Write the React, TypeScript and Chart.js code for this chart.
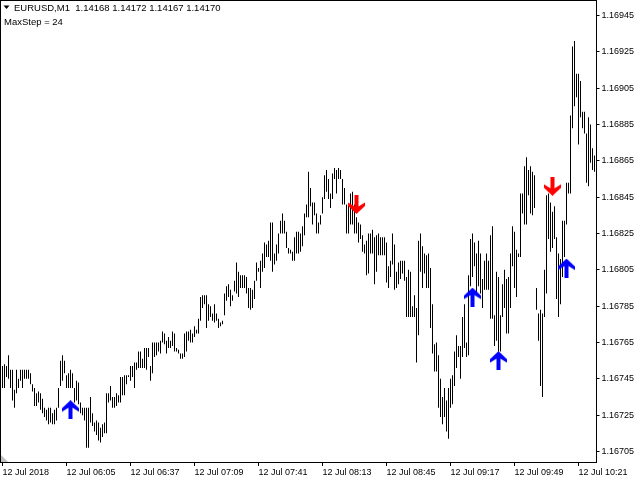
import React, { useEffect, useRef } from 'react';
import { Chart, registerables } from 'chart.js';

Chart.register(...registerables);

const FONT = '"Liberation Sans", Arial, sans-serif';

// M1 bars, 05:33 .. 10:29 (high / low)
const highs = [
  1.16752, 1.16753, 1.16752, 1.16758, 1.16750, 1.16750, 1.16739, 1.16750, 1.16745, 1.16750,
  1.16750, 1.16750, 1.16750, 1.16750, 1.16748, 1.16742, 1.16740, 1.16737, 1.16738, 1.16737,
  1.16734, 1.16729, 1.16728, 1.16729, 1.16729, 1.16726, 1.16728, 1.16729, 1.16740, 1.16755,
  1.16758, 1.16755, 1.16747, 1.16748, 1.16750, 1.16748, 1.16740, 1.16744, 1.16743, 1.16732,
  1.16729, 1.16729, 1.16729, 1.16729, 1.16735, 1.16726, 1.16721, 1.16722, 1.16721, 1.16718,
  1.16720, 1.16721, 1.16737, 1.16737, 1.16741, 1.16735, 1.16735, 1.16737, 1.16736, 1.16746,
  1.16746, 1.16747, 1.16747, 1.16747, 1.16752, 1.16752, 1.16754, 1.16754, 1.16760, 1.16760,
  1.16756, 1.16762, 1.16762, 1.16762, 1.16752, 1.16765, 1.16765, 1.16765, 1.16765, 1.16766,
  1.16771, 1.16770, 1.16766, 1.16768, 1.16766, 1.16771, 1.16770, 1.16762, 1.16761, 1.16759,
  1.16759, 1.16770, 1.16771, 1.16771, 1.16772, 1.16770, 1.16774, 1.16772, 1.16778, 1.16790,
  1.16791, 1.16791, 1.16791, 1.16786, 1.16785, 1.16781, 1.16786, 1.16781, 1.16778, 1.16776,
  1.16777, 1.16792, 1.16796, 1.16797, 1.16794, 1.16791, 1.16799, 1.16809, 1.16804, 1.16802,
  1.16802, 1.16802, 1.16801, 1.16795, 1.16795, 1.16794, 1.16799, 1.16809, 1.16806, 1.16810,
  1.16814, 1.16820, 1.16819, 1.16821, 1.16831, 1.16831, 1.16814, 1.16819, 1.16825, 1.16832,
  1.16836, 1.16832, 1.16826, 1.16817, 1.16816, 1.16815, 1.16823, 1.16826, 1.16826, 1.16825,
  1.16829, 1.16836, 1.16841, 1.16859, 1.16850, 1.16842, 1.16842, 1.16836, 1.16831, 1.16835,
  1.16845, 1.16857, 1.16860, 1.16855, 1.16847, 1.16858, 1.16861, 1.16860, 1.16861, 1.16860,
  1.16855, 1.16850, 1.16841, 1.16841, 1.16847, 1.16848, 1.16841, 1.16834, 1.16831, 1.16830,
  1.16824, 1.16819, 1.16821, 1.16825, 1.16825, 1.16827, 1.16823, 1.16824, 1.16825, 1.16823,
  1.16823, 1.16823, 1.16820, 1.16807, 1.16810, 1.16825, 1.16819, 1.16804, 1.16809, 1.16810,
  1.16810, 1.16810, 1.16801, 1.16805, 1.16804, 1.16785, 1.16791, 1.16784, 1.16821, 1.16825,
  1.16818, 1.16814, 1.16813, 1.16814, 1.16806, 1.16786, 1.16764, 1.16765, 1.16758, 1.16745,
  1.16735, 1.16740, 1.16733, 1.16740, 1.16745, 1.16747, 1.16760, 1.16769, 1.16763, 1.16763,
  1.16779, 1.16786, 1.16765, 1.16802, 1.16822, 1.16825, 1.16820, 1.16814, 1.16821, 1.16814,
  1.16800, 1.16810, 1.16814, 1.16810, 1.16824, 1.16829, 1.16780, 1.16804, 1.16801, 1.16780,
  1.16797, 1.16805, 1.16800, 1.16801, 1.16814, 1.16829, 1.16826, 1.16816, 1.16814, 1.16847,
  1.16847, 1.16862, 1.16867, 1.16860, 1.16862, 1.16859, 1.16857, 1.16795, 1.16781, 1.16783,
  1.16781, 1.16805, 1.16846, 1.16847, 1.16842, 1.16837, 1.16840, 1.16823, 1.16814, 1.16811,
  1.16832, 1.16832, 1.16853, 1.16853, 1.16890, 1.16928, 1.16931, 1.16913, 1.16913, 1.16909,
  1.16892, 1.16892, 1.16880, 1.16889, 1.16885, 1.16872, 1.16868,
];

const lows = [
  1.16740, 1.16740, 1.16746, 1.16745, 1.16740, 1.16733, 1.16729, 1.16737, 1.16740, 1.16744,
  1.16740, 1.16745, 1.16745, 1.16745, 1.16742, 1.16738, 1.16730, 1.16730, 1.16732, 1.16728,
  1.16726, 1.16724, 1.16722, 1.16720, 1.16721, 1.16720, 1.16720, 1.16722, 1.16729, 1.16741,
  1.16744, 1.16748, 1.16740, 1.16740, 1.16740, 1.16740, 1.16732, 1.16733, 1.16731, 1.16726,
  1.16725, 1.16722, 1.16707, 1.16707, 1.16721, 1.16719, 1.16716, 1.16714, 1.16711, 1.16710,
  1.16713, 1.16715, 1.16715, 1.16732, 1.16733, 1.16729, 1.16729, 1.16730, 1.16732, 1.16732,
  1.16736, 1.16736, 1.16742, 1.16746, 1.16744, 1.16746, 1.16740, 1.16750, 1.16751, 1.16751,
  1.16751, 1.16751, 1.16750, 1.16757, 1.16744, 1.16748, 1.16757, 1.16758, 1.16760, 1.16759,
  1.16765, 1.16764, 1.16759, 1.16762, 1.16762, 1.16763, 1.16760, 1.16760, 1.16759, 1.16756,
  1.16756, 1.16757, 1.16760, 1.16766, 1.16765, 1.16765, 1.16768, 1.16770, 1.16770, 1.16777,
  1.16784, 1.16786, 1.16773, 1.16777, 1.16779, 1.16777, 1.16776, 1.16777, 1.16773, 1.16774,
  1.16775, 1.16780, 1.16788, 1.16790, 1.16785, 1.16788, 1.16793, 1.16792, 1.16790, 1.16795,
  1.16795, 1.16795, 1.16792, 1.16784, 1.16783, 1.16784, 1.16789, 1.16799, 1.16804, 1.16795,
  1.16804, 1.16806, 1.16812, 1.16812, 1.16810, 1.16804, 1.16808, 1.16810, 1.16814, 1.16825,
  1.16825, 1.16825, 1.16817, 1.16814, 1.16814, 1.16810, 1.16810, 1.16814, 1.16814, 1.16815,
  1.16818, 1.16824, 1.16834, 1.16834, 1.16840, 1.16830, 1.16835, 1.16825, 1.16825, 1.16830,
  1.16836, 1.16844, 1.16848, 1.16844, 1.16839, 1.16844, 1.16855, 1.16847, 1.16855, 1.16855,
  1.16841, 1.16841, 1.16825, 1.16825, 1.16830, 1.16830, 1.16825, 1.16825, 1.16820, 1.16822,
  1.16815, 1.16814, 1.16802, 1.16803, 1.16814, 1.16814, 1.16797, 1.16804, 1.16813, 1.16813,
  1.16813, 1.16813, 1.16798, 1.16795, 1.16801, 1.16808, 1.16794, 1.16795, 1.16797, 1.16800,
  1.16803, 1.16799, 1.16779, 1.16779, 1.16779, 1.16779, 1.16779, 1.16754, 1.16769, 1.16804,
  1.16795, 1.16803, 1.16795, 1.16795, 1.16773, 1.16759, 1.16749, 1.16749, 1.16729, 1.16724,
  1.16720, 1.16724, 1.16716, 1.16712, 1.16729, 1.16731, 1.16741, 1.16751, 1.16757, 1.16745,
  1.16757, 1.16762, 1.16757, 1.16758, 1.16796, 1.16801, 1.16807, 1.16792, 1.16796, 1.16792,
  1.16784, 1.16794, 1.16794, 1.16794, 1.16778, 1.16778, 1.16763, 1.16766, 1.16760, 1.16760,
  1.16779, 1.16784, 1.16770, 1.16770, 1.16784, 1.16807, 1.16795, 1.16790, 1.16812, 1.16812,
  1.16836, 1.16830, 1.16830, 1.16846, 1.16836, 1.16835, 1.16839, 1.16783, 1.16766, 1.16741,
  1.16735, 1.16779, 1.16792, 1.16822, 1.16815, 1.16817, 1.16822, 1.16789, 1.16779, 1.16786,
  1.16801, 1.16812, 1.16830, 1.16847, 1.16847, 1.16883, 1.16895, 1.16900, 1.16874, 1.16889,
  1.16883, 1.16880, 1.16853, 1.16851, 1.16864, 1.16860, 1.16859,
];

const timeLabels = [
  '12 Jul 2018', '12 Jul 06:05', '12 Jul 06:37', '12 Jul 07:09', '12 Jul 07:41',
  '12 Jul 08:13', '12 Jul 08:45', '12 Jul 09:17', '12 Jul 09:49', '12 Jul 10:21',
];
const labelEvery = 32;

const priceTicks = [
  1.16705, 1.16725, 1.16745, 1.16765, 1.16785, 1.16805, 1.16825,
  1.16845, 1.16865, 1.16885, 1.16905, 1.16925, 1.16945,
];
const priceMin = 1.166992;
const priceMax = 1.16953;

// indicator signals
const upArrowBars = [34, 235, 248, 282];
const upArrowPrices = [1.16728, 1.16790, 1.16755, 1.16806];
const downArrowBars = [177, 275];
const downArrowPrices = [1.16841, 1.16851];

const headerText = 'EURUSD,M1  1.14168 1.14172 1.14167 1.14170';
const subHeaderText = 'MaxStep = 24';

function makeArrow(color: string, up: boolean) {
  const c = document.createElement('canvas');
  c.width = 17;
  c.height = 19;
  const g = c.getContext('2d')!;
  const pts = [[8.5, 0], [17, 8], [17, 11.5], [10.5, 7.5], [10.5, 19], [6.5, 19], [6.5, 7.5], [0, 11.5], [0, 8]];
  g.fillStyle = color;
  g.beginPath();
  pts.forEach(([x, y], i) => {
    const yy = up ? y : 19 - y;
    if (i === 0) g.moveTo(x, yy);
    else g.lineTo(x, yy);
  });
  g.closePath();
  g.fill();
  return c;
}

function sparse(bars: number[], prices: number[]) {
  const out: (number | null)[] = highs.map(() => null);
  bars.forEach((b, i) => { out[b] = prices[i]; });
  return out;
}

// no automatic label padding: the plot frame sits at the canvas edge like the terminal
const noPad = (s: any) => {
  s.paddingTop = 0;
  s.paddingBottom = 0;
  s.paddingLeft = 0;
  s.paddingRight = 0;
};

const mtFrame = {
  id: 'mtFrame',
  afterDraw(chart: any) {
    const { ctx, chartArea: a } = chart;
    ctx.save();
    ctx.strokeStyle = '#000';
    ctx.lineWidth = 1;
    ctx.strokeRect(a.left - 1, a.top - 0.5, a.right - a.left + 2, a.bottom - a.top + 1);

    // chart shift marker
    ctx.fillStyle = '#c0c0c0';
    ctx.beginPath();
    ctx.moveTo(a.left - 0.5, a.bottom - 7);
    ctx.lineTo(a.left - 0.5, a.bottom);
    ctx.lineTo(a.left + 6.5, a.bottom);
    ctx.closePath();
    ctx.fill();

    // header
    ctx.fillStyle = '#000';
    ctx.beginPath();
    ctx.moveTo(3.5, 5.5);
    ctx.lineTo(9.5, 5.5);
    ctx.lineTo(6.5, 9);
    ctx.closePath();
    ctx.fill();
    ctx.font = `9.5px ${FONT}`;
    ctx.textBaseline = 'top';
    ctx.textAlign = 'left';
    ctx.fillText(headerText, 14, 3.5);
    ctx.fillText(subHeaderText, 4, 17.5);
    ctx.restore();
  },
};

const App = () => {
  const canvasRef = useRef<HTMLCanvasElement>(null);

  useEffect(() => {
    if (!canvasRef.current) return;
    const chart = new Chart(canvasRef.current, {
      type: 'bar',
      data: {
        labels: highs.map((_, i) => i),
        datasets: [
          {
            type: 'line',
            data: sparse(upArrowBars, upArrowPrices),
            showLine: false,
            pointStyle: makeArrow('#0000ff', true),
            pointRadius: 5,
            order: 0,
          } as any,
          {
            type: 'line',
            data: sparse(downArrowBars, downArrowPrices),
            showLine: false,
            pointStyle: makeArrow('#ff0000', false),
            pointRadius: 5,
            order: 0,
          } as any,
          {
            type: 'bar',
            data: lows.map((l, i) => [l, highs[i]]),
            backgroundColor: '#000',
            borderWidth: 0,
            barThickness: 1,
            inflateAmount: 0,
            order: 1,
          } as any,
        ],
      },
      options: {
        responsive: false,
        animation: false,
        events: [],
        layout: { autoPadding: false, padding: { left: 1.5, top: 1, right: 0, bottom: 0 } },
        plugins: { legend: { display: false }, tooltip: { enabled: false } },
        scales: {
          x: {
            type: 'category',
            offset: true,
            border: { display: false },
            grid: {
              offset: false,
              drawOnChartArea: false,
              tickLength: 4,
              color: (ctx: any) => (ctx.index % labelEvery === 0 ? '#000' : 'rgba(0,0,0,0)'),
            },
            ticks: {
              autoSkip: false,
              maxRotation: 0,
              minRotation: 0,
              align: 'start',
              padding: 1,
              color: '#000',
              font: { family: FONT, size: 9 },
              callback: (_v: any, i: number) => (i % labelEvery === 0 ? timeLabels[i / labelEvery] : ''),
            },
            afterFit: (s: any) => { noPad(s); s.height = 18; },
          },
          y: {
            type: 'linear',
            position: 'right',
            min: priceMin,
            max: priceMax,
            beginAtZero: false,
            border: { display: false },
            grid: { drawOnChartArea: false, tickLength: 4, color: '#000' },
            afterBuildTicks: (s: any) => { s.ticks = priceTicks.map((v) => ({ value: v })); },
            ticks: {
              padding: 2,
              color: '#000',
              font: { family: FONT, size: 9 },
              callback: (v: any) => Number(v).toFixed(5),
            },
            afterFit: (s: any) => { noPad(s); s.width = 44.5; },
          },
        },
      },
      plugins: [mtFrame],
    });
    return () => chart.destroy();
  }, []);

  return (
    <div style={{ position: 'absolute', left: 0, top: 0, width: 640, height: 480, background: '#fff' }}>
      <canvas ref={canvasRef} width={640} height={480} style={{ display: 'block' }} />
    </div>
  );
};

export default App;
